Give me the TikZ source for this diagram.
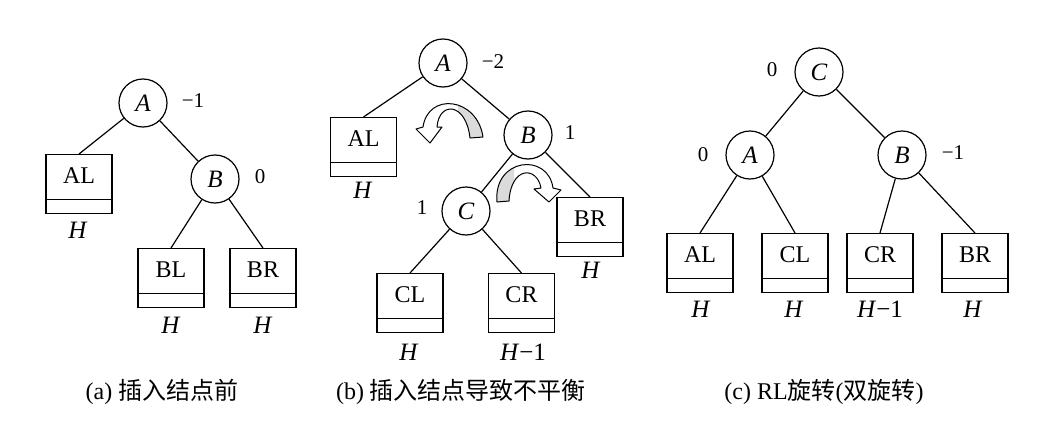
\documentclass[tikz,border=0pt]{standalone}
\usepackage{fontspec}
\setmainfont{Liberation Serif}
\newfontfamily\cjk{Noto Sans CJK SC}
\newcommand\mybox[4]{%
  \node[tbox,anchor=north] (#1) at (#2,#3) {};
  \draw[tedge] ([yshift=15pt]#1.south west) -- ([yshift=15pt]#1.south east);
  \node[lbl] (#1t) at ([yshift=-22pt]#1.north) {#4};
}
\begin{document}
\begin{tikzpicture}[x=1pt,y=-1pt,
  circ/.style={circle,draw,line width=1.2pt,minimum size=48pt,inner sep=0pt,font=\fontsize{25}{25}\selectfont\itshape},
  tbox/.style={draw,line width=1.2pt,minimum width=66pt,minimum height=59pt,inner sep=0pt},
  lbl/.style={font=\fontsize{24}{24}\selectfont},
  num/.style={font=\fontsize{21}{21}\selectfont},
  hl/.style={font=\fontsize{25}{25}\selectfont},
  tedge/.style={line width=1.2pt},
  rarrow/.style={line width=1pt,line join=round},
  captxt/.style={font=\fontsize{24}{28}\selectfont}]
\useasboundingbox (0,0) rectangle (1049,423);

% ---------- (a) ----------
\node[circ] (A1) at (143,103) {A};
\node[num] (A1n) at (193,101) {−1};
\node[circ] (B1) at (215,179) {B};
\node[num] (B1n) at (260,177) {0};
\mybox{AL1}{79}{154}{AL}
\mybox{BL1}{171}{248}{BL}
\mybox{BR1}{263}{248}{BR}
\node[hl] (H1a) at (78,230) {\textit{H}};
\node[hl] (H1b) at (171,325) {\textit{H}};
\node[hl] (H1c) at (263,325) {\textit{H}};
\draw[tedge] (A1) -- (AL1.north);
\draw[tedge] (A1) -- (B1);
\draw[tedge] (B1) -- (BL1.north);
\draw[tedge] (B1) -- (BR1.north);

% ---------- (b) ----------
\node[circ] (A2) at (443,63) {A};
\node[num] (A2n) at (493,62) {−2};
\node[circ] (B2) at (528,135) {B};
\node[num] (B2n) at (570,133) {1};
\node[circ] (C2) at (466,211) {C};
\node[num] (C2n) at (422,208) {1};
\mybox{AL2}{363.5}{117}{AL}
\mybox{BR2}{590}{197}{BR}
\mybox{CL2}{410}{273}{CL}
\mybox{CR2}{521.5}{273}{CR}
\node[hl] (H2a) at (363,190) {\textit{H}};
\node[hl] (H2b) at (591,270) {\textit{H}};
\node[hl] (H2c) at (409,352) {\textit{H}};
\node[hl] (H2d) at (523,352) {\textit{H}−1};
\draw[tedge] (A2) -- (AL2.north);
\draw[tedge] (A2) -- (B2);
\draw[tedge] (B2) -- (C2);
\draw[tedge] (B2) -- (BR2.north);
\draw[tedge] (C2) -- (CL2.north);
\draw[tedge] (C2) -- (CR2.north);

% rotation arrow 1 (left)
\fill[white] (470,138) -- (483,137) .. controls (477,97) and (428,92) .. (423,127) -- (416,129) -- (430,143) -- (442,127) -- (437,127) .. controls (439,101) and (466,102) .. (470,138) -- cycle;
\begin{scope}
  \clip (458,90) rectangle (495,145);
  \fill[black!14] (470,138) -- (483,137) .. controls (477,97) and (428,92) .. (423,127) -- (416,129) -- (430,143) -- (442,127) -- (437,127) .. controls (439,101) and (466,102) .. (470,138) -- cycle;
\end{scope}
\draw[rarrow] (470,138) -- (483,137) .. controls (477,97) and (428,92) .. (423,127) -- (416,129) -- (430,143) -- (442,127) -- (437,127) .. controls (439,101) and (466,102) .. (470,138) -- cycle;

% rotation arrow 2 (right)
\fill[white] (497,202) .. controls (493,158) and (548,152) .. (553,188) -- (561,190) -- (549,202) -- (534,189) -- (541,188) .. controls (537,166) and (511,166) .. (509,201) -- cycle;
\begin{scope}
  \clip (485,150) rectangle (514,210);
  \fill[black!14] (497,202) .. controls (493,158) and (548,152) .. (553,188) -- (561,190) -- (549,202) -- (534,189) -- (541,188) .. controls (537,166) and (511,166) .. (509,201) -- cycle;
\end{scope}
\draw[rarrow] (497,202) .. controls (493,158) and (548,152) .. (553,188) -- (561,190) -- (549,202) -- (534,189) -- (541,188) .. controls (537,166) and (511,166) .. (509,201) -- cycle;

% ---------- (c) ----------
\node[circ] (C3) at (819,72) {C};
\node[num] (C3n) at (772,70) {0};
\node[circ] (A3) at (750,155) {A};
\node[num] (A3n) at (703,155) {0};
\node[circ] (B3) at (902,155) {B};
\node[num] (B3n) at (953,153) {−1};
\mybox{AL3}{700}{233}{AL}
\mybox{CL3}{795}{233}{CL}
\mybox{CR3}{880}{233}{CR}
\mybox{BR3}{975}{233}{BR}
\node[hl] (H3a) at (701,309) {\textit{H}};
\node[hl] (H3b) at (794,309) {\textit{H}};
\node[hl] (H3c) at (880,309) {\textit{H}−1};
\node[hl] (H3d) at (973,309) {\textit{H}};
\draw[tedge] (C3) -- (A3);
\draw[tedge] (C3) -- (B3);
\draw[tedge] (A3) -- (AL3.north);
\draw[tedge] (A3) -- (CL3.north);
\draw[tedge] (B3) -- (CR3.north);
\draw[tedge] (B3) -- (BR3.north);

% ---------- captions ----------
\node[captxt] (capa) at (162,392) {(a) {\cjk 插入结点前}};
\node[captxt] (capb) at (461,392) {(b) {\cjk 插入结点导致不平衡}};
\node[captxt] (capc) at (824,392) {(c) RL{\cjk 旋转}({\cjk 双旋转})};
\end{tikzpicture}
\end{document}
